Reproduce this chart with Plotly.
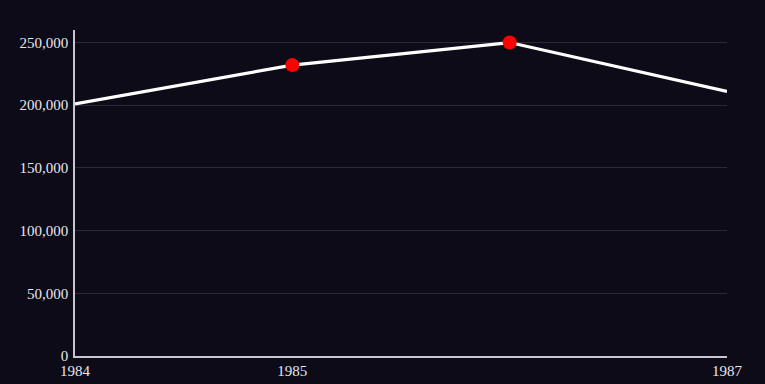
import plotly.graph_objects as go

years = [1984, 1985, 1986, 1987]
values = [201000, 232000, 250000, 211000]
marked = [False, True, True, False]
x_ticks = [1984, 1985, 1987]
y_ticks = [0, 50000, 100000, 150000, 200000, 250000]

fig = go.Figure()
fig.add_trace(go.Scatter(
    x=years, y=values, mode="lines",
    line=dict(color="#ffffff", width=3.2),
    hoverinfo="skip", showlegend=False,
))
fig.add_trace(go.Scatter(
    x=[x for x, m in zip(years, marked) if m],
    y=[v for v, m in zip(values, marked) if m],
    mode="markers",
    marker=dict(color="#ff0000", size=14, line=dict(width=0)),
    showlegend=False,
))

fig.update_layout(
    width=765, height=384,
    margin=dict(l=75, r=38, t=30, b=28),
    paper_bgcolor="#0e0b18",
    plot_bgcolor="#0e0b18",
    font=dict(family="Liberation Serif, serif", size=15, color="#e8e6ee"),
    xaxis=dict(
        range=[1984, 1987], tickvals=x_ticks, ticktext=[str(t) for t in x_ticks],
        showgrid=False, zeroline=False, showline=True, linecolor="#c8c6d0",
        linewidth=1.5, ticks="", ticklen=0, automargin=False,
        ticklabelstandoff=0,
    ),
    yaxis=dict(
        range=[0, 260000], tickvals=y_ticks, tickformat=",",
        showgrid=True, gridcolor="#2c2a38", gridwidth=1,
        zeroline=False, showline=True, linecolor="#c8c6d0", linewidth=1.5,
        ticks="", ticklen=0, automargin=False, ticklabelstandoff=2,
    ),
)

fig.write_html("out.html")
